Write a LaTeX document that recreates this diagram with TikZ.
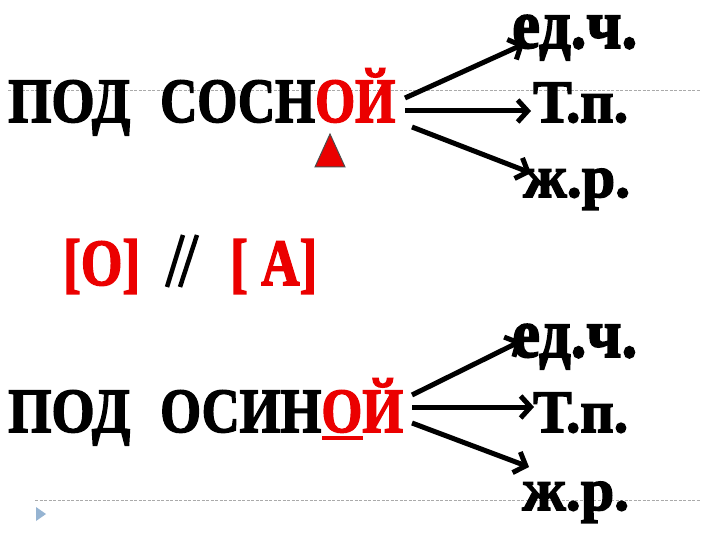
\documentclass[tikz,border=0pt]{standalone}
\usepackage{fontspec}
\setmainfont{Liberation Serif}
\newfontfamily\heavy{Liberation Serif}[FakeBold=2.5]
\usetikzlibrary{arrows.meta}
\definecolor{rd}{RGB}{235,0,0}
\definecolor{guide}{RGB}{170,170,170}
\definecolor{marker}{RGB}{150,180,210}
\newcommand{\fitw}[2]{\resizebox{#1}{\height}{#2}}
\begin{document}
\begin{tikzpicture}[x=1pt,y=-1pt,
  word/.style={anchor=base west, inner sep=0pt, font=\heavy\bfseries\fontsize{63}{63}\selectfont},
  lab/.style={anchor=base west, inner sep=0pt, font=\heavy\bfseries\fontsize{60}{60}\selectfont},
  biglab/.style={anchor=base west, inner sep=0pt, font=\heavy\bfseries\fontsize{70}{70}\selectfont},
  pho/.style={anchor=base west, inner sep=0pt, text=rd, font=\heavy\bfseries\fontsize{66}{66}\selectfont},
  arr/.style={line width=5pt, -{Straight Barb[length=10pt,width=22pt]}},
  guideline/.style={guide, line width=0.6pt, dashed, dash pattern=on 3pt off 1.5pt}]
\useasboundingbox (0,0) rectangle (720,540);
\fill[white] (0,0) rectangle (720,540);
% guide lines
\draw[guideline] (8,90) -- (700,90);
\draw[guideline] (35,500) -- (700,500);
\fill[marker] (36,507) -- (46,514) -- (36,521) -- cycle;
% top row
\node[word] (p1) at (8,122) {\fitw{122pt}{ПОД}};
\node[word] (w1) at (160,122) {\fitw{235pt}{СОСН\textcolor{rd}{ОЙ}}};
\fill[rd, draw=black!70, line width=1pt] (330,134) -- (345,167) -- (315,167) -- cycle;
\node[biglab] (e1) at (512,48) {\fitw{125pt}{ед.ч.}};
\node[lab] (t1) at (533,122) {\fitw{95pt}{Т.п.}};
\node[lab] (z1) at (523,197) {\fitw{107pt}{ж.р.}};
\coordinate (a1) at (405,98);  \coordinate (b1) at (524,44);
\coordinate (a2) at (405,111); \coordinate (b2) at (531,111);
\coordinate (a3) at (412,127); \coordinate (b3) at (531,173);
\draw[arr] (a1) -- (b1);
\draw[arr] (a2) -- (b2);
\draw[arr] (a3) -- (b3);
% middle row
\node[pho] (o) at (63,285) {\fitw{77pt}{[О]}};
\node[pho] (a) at (230,285) {\fitw{87pt}{[ А]}};
\coordinate (s1a) at (183,235); \coordinate (s1b) at (167,287);
\coordinate (s2a) at (197,235); \coordinate (s2b) at (180,287);
\draw[line width=4.5pt] (s1a) -- (s1b);
\draw[line width=4.5pt] (s2a) -- (s2b);
% bottom row
\node[word] (p2) at (8,432) {\fitw{122pt}{ПОД}};
\node[word] (w2) at (160,432) {\fitw{243pt}{ОСИН\textcolor{rd}{ОЙ}}};
\draw[rd, line width=4pt] (322,438) -- (363,438);
\node[biglab] (e2) at (512,357) {\fitw{125pt}{ед.ч.}};
\node[lab] (t2) at (533,432) {\fitw{95pt}{Т.п.}};
\node[lab] (z2) at (522,510) {\fitw{107pt}{ж.р.}};
\coordinate (c1) at (412,395); \coordinate (d1) at (521,341);
\coordinate (c2) at (412,407); \coordinate (d2) at (534,407);
\coordinate (c3) at (412,423); \coordinate (d3) at (529,467);
\draw[arr] (c1) -- (d1);
\draw[arr] (c2) -- (d2);
\draw[arr] (c3) -- (d3);
\end{tikzpicture}
\end{document}
